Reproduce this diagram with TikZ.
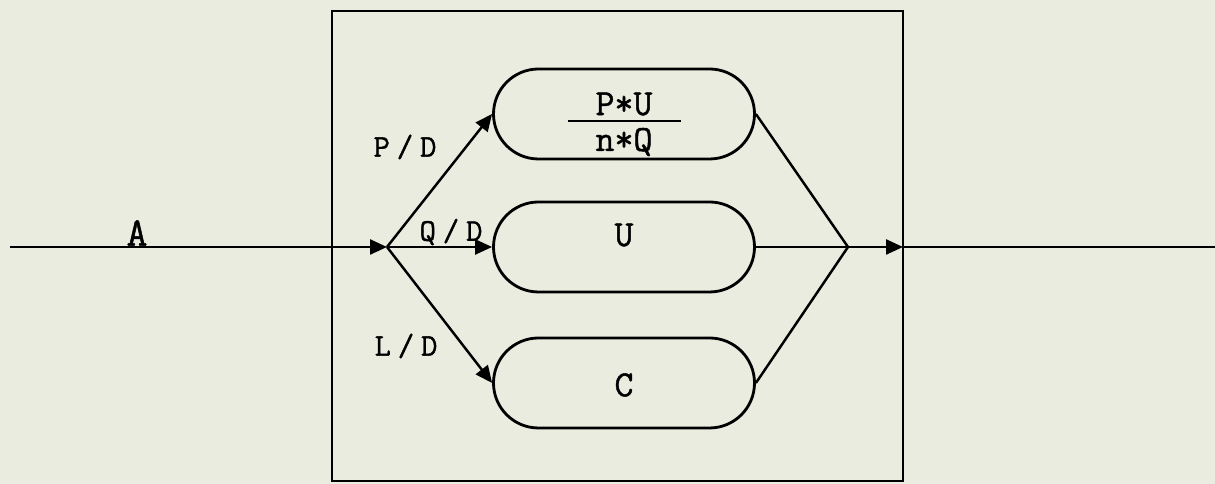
\documentclass[tikz,border=0pt]{standalone}
\usepackage{fontspec}
\newfontfamily\twfont[FakeBold=1.2]{Latin Modern Mono}
\newfontfamily\labfont[LetterSpace=22, FakeBold=1.2]{Latin Modern Mono}
\usetikzlibrary{arrows.meta,shapes.misc}
\definecolor{paper}{RGB}{234,236,224}

\begin{document}
\begin{tikzpicture}[
		pill/.style={rounded rectangle, draw, line width=1.6pt, minimum width=5.22cm, minimum height=1.8cm, inner sep=0pt},
		flow/.style={line width=1.4pt},
		tip/.style={-{Triangle[length=0.34cm, width=0.3cm]}},
		boxtext/.style={font=\twfont\fontsize{21}{23}\selectfont, inner sep=0pt},
		lab/.style={font=\labfont\fontsize{18}{20}\selectfont}
	]
		\fill[paper] (0, 0) rectangle (24.3, 9.68);
		\useasboundingbox (0, 0) rectangle (24.3, 9.68);
		
		% outer block
		\draw[line width=1.3pt] (6.64, 0.06) rectangle (18.06, 9.46);
		
		\coordinate (start) at (0.2, 4.74);
		\coordinate (split) at (7.74, 4.74);
		\coordinate (merge) at (16.96, 4.74);
		\coordinate (exit) at (18.06, 4.74);
		\coordinate (end) at (24.3, 4.74);
		
		% the three branches
		\node[pill,
			label={[boxtext, yshift=0.2cm]center:P*U},
			label={[inner sep=0pt, yshift=-0.14cm]center:\rule{2.26cm}{1.3pt}},
			label={[boxtext, yshift=-0.56cm]center:n*Q}] (pu) at (12.48, 7.40) {};
		\node[pill, label={[boxtext, yshift=0.24cm]center:U}] (u) at (12.48, 4.74) {};
		\node[pill, label={[boxtext, yshift=-0.04cm]center:C}] (c) at (12.48, 2.02) {};
		
		% input line
		\draw[flow, tip] (start) -- (split);
		\node[boxtext, anchor=south, font=\twfont\fontsize{23}{25}\selectfont] (a) at (2.74, 4.76) {A};
		
		\draw[flow, tip] (split) -- (pu.west);
		\draw[flow, tip] (split) -- (u.west);
		\draw[flow, tip] (split) -- (c.west);
		
		\node[lab] (pd) at (8.1, 6.74) {P/D};
		\node[lab] (qd) at (9.02, 5.04) {Q/D};
		\node[lab] (ld) at (8.12, 2.76) {L/D};
		
		% output side
		\draw[flow] (pu.east) -- (merge);
		\draw[flow] (u.east) -- (merge);
		\draw[flow] (c.east) -- (merge);
		\draw[flow, tip] (merge) -- (exit);
		\draw[flow] (exit) -- (end);
		
	\end{tikzpicture}
\end{document}
